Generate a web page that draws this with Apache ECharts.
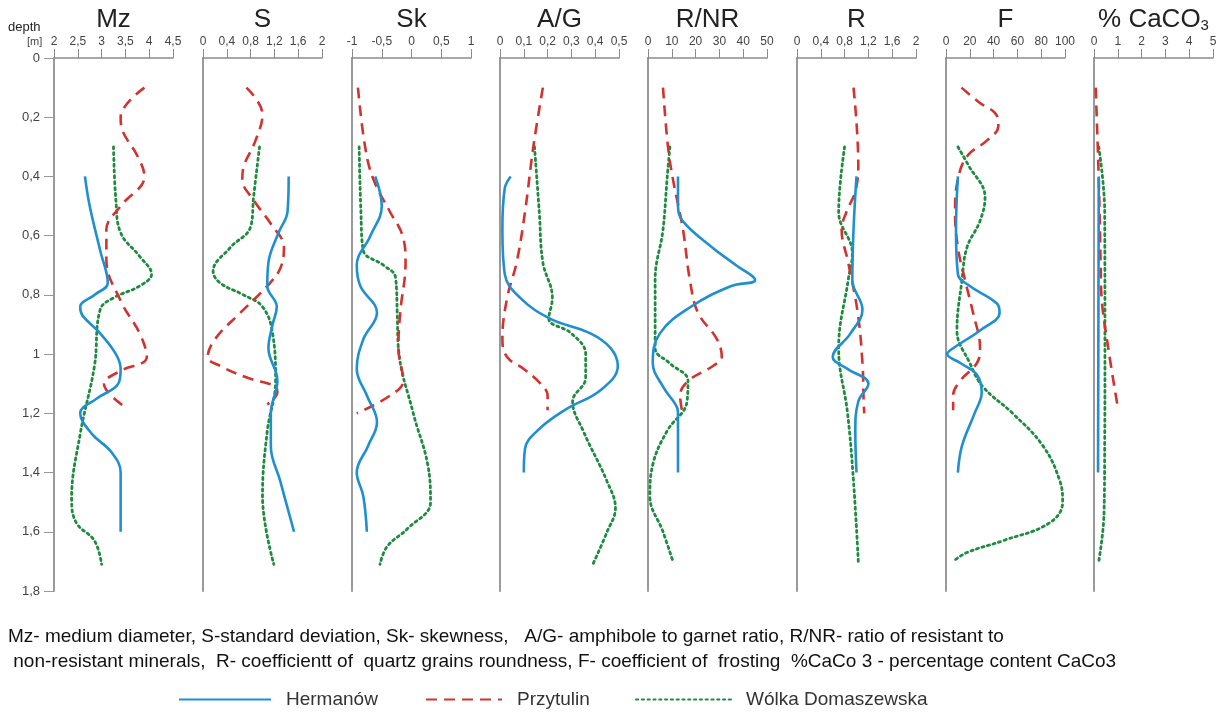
<!DOCTYPE html>
<html><head><meta charset="utf-8">
<script src="https://cdn.jsdelivr.net/npm/echarts@6/dist/echarts.min.js"></script>
<style>html,body{margin:0;padding:0;background:#fff}#c{width:1231px;height:712px}</style>
</head><body><div id="c"></div>
<script>
// ---- axes / categories ----
const panelTitles = ['Mz', 'S', 'Sk', 'A/G', 'R/NR', 'R', 'F', '% CaCO3'];
const xMin = [2, 0, -1, 0, 0, 0, 0, 0];
const xMax = [4.5, 2, 1, 0.5, 50, 2, 100, 5];
const xStep = [0.5, 0.4, 0.5, 0.1, 10, 0.4, 20, 1];
const depthMin = 0, depthMax = 1.8, depthStep = 0.2;
const seriesNames = ['Hermanów', 'Przytulin', 'Wólka Domaszewska'];
const captionLine1 = 'Mz- medium diameter, S-standard deviation, Sk- skewness,   A/G- amphibole to garnet ratio, R/NR- ratio of resistant to';
const captionLine2 = ' non-resistant minerals,  R- coefficientt of  quartz grains roundness, F- coefficient of  frosting  %CaCo 3 - percentage content CaCo3';

// ---- data: [depth (m), value] ----
// Mz
const mzHermanow = [[0.4,2.65],[0.5,2.75],[0.65,2.97],[0.76,3.13],[0.8,2.85],[0.84,2.55],[0.87,2.6],[0.93,2.97],[1.0,3.3],[1.05,3.4],[1.1,3.35],[1.15,2.9],[1.2,2.55],[1.27,2.8],[1.33,3.2],[1.4,3.4],[1.6,3.4]];
const mzPrzytulin = [[0.1,3.9],[0.2,3.4],[0.25,3.45],[0.33,3.75],[0.4,3.9],[0.5,3.4],[0.58,3.1],[0.68,3.1],[0.82,3.4],[0.93,3.8],[1.01,3.95],[1.06,3.35],[1.1,3.05],[1.18,3.5]];
const mzWolka = [[0.3,3.25],[0.48,3.3],[0.59,3.4],[0.67,3.8],[0.73,4.05],[0.77,3.8],[0.81,3.25],[0.85,2.97],[1.04,2.85],[1.27,2.55],[1.49,2.37],[1.57,2.47],[1.63,2.85],[1.71,3.0]];
// S
const sHermanow = [[0.4,1.44],[0.52,1.42],[0.59,1.27],[0.69,1.1],[0.77,1.08],[0.84,1.24],[0.9,1.17],[0.98,1.1],[1.09,1.25],[1.2,1.14],[1.31,1.14],[1.43,1.3],[1.6,1.53]];
const sPrzytulin = [[0.1,0.73],[0.19,1.0],[0.28,0.88],[0.37,0.68],[0.41,0.66],[0.48,0.85],[0.56,1.14],[0.64,1.36],[0.71,1.3],[0.77,1.08],[0.86,0.63],[0.95,0.2],[1.01,0.08],[1.04,0.29],[1.08,0.75],[1.11,1.22],[1.13,1.25],[1.17,1.08]];
const sWolka = [[0.3,0.95],[0.47,0.85],[0.57,0.8],[0.64,0.46],[0.72,0.17],[0.76,0.29],[0.8,0.68],[0.84,1.0],[0.93,1.17],[1.09,1.22],[1.26,1.08],[1.48,1.0],[1.71,1.19]];
// Sk
const skHermanow = [[0.4,-0.61],[0.5,-0.5],[0.6,-0.69],[0.7,-0.92],[0.77,-0.86],[0.86,-0.58],[0.95,-0.81],[1.05,-0.92],[1.14,-0.75],[1.23,-0.58],[1.31,-0.73],[1.4,-0.92],[1.48,-0.81],[1.6,-0.75]];
const skPrzytulin = [[0.1,-0.9],[0.3,-0.78],[0.41,-0.64],[0.52,-0.36],[0.6,-0.15],[0.69,-0.1],[0.86,-0.19],[0.98,-0.22],[1.09,-0.14],[1.14,-0.36],[1.2,-0.92]];
const skWolka = [[0.3,-0.88],[0.52,-0.85],[0.65,-0.81],[0.7,-0.47],[0.74,-0.27],[0.86,-0.24],[0.98,-0.22],[1.2,0.03],[1.37,0.27],[1.5,0.32],[1.59,-0.07],[1.65,-0.41],[1.71,-0.53]];
// A/G
const agHermanow = [[0.4,0.045],[0.44,0.02],[0.58,0.01],[0.73,0.02],[0.81,0.085],[0.88,0.21],[0.93,0.38],[0.98,0.465],[1.04,0.495],[1.12,0.425],[1.19,0.27],[1.26,0.155],[1.32,0.105],[1.4,0.1]];
const agPrzytulin = [[0.1,0.18],[0.3,0.14],[0.52,0.105],[0.69,0.07],[0.81,0.03],[0.95,0.01],[1.01,0.03],[1.05,0.1],[1.1,0.17],[1.14,0.2],[1.19,0.2]];
const agWolka = [[0.3,0.145],[0.52,0.165],[0.69,0.18],[0.81,0.22],[0.88,0.205],[0.93,0.3],[1.0,0.36],[1.08,0.36],[1.16,0.305],[1.26,0.35],[1.43,0.45],[1.52,0.485],[1.6,0.45],[1.71,0.39]];
// R/NR
const rnrHermanow = [[0.4,12.6],[0.5,12.6],[0.55,14.5],[0.64,27],[0.7,37],[0.75,45],[0.77,35],[0.84,18],[0.93,5],[1.03,2],[1.11,6.3],[1.18,12.2],[1.2,12.6],[1.4,12.6]];
const rnrPrzytulin = [[0.1,6.3],[0.3,8.4],[0.41,10.5],[0.58,14.7],[0.75,17.6],[0.86,21],[0.95,29],[1.01,31],[1.04,27.3],[1.09,17],[1.14,13.5],[1.2,14.5]];
const rnrWolka = [[0.3,9.2],[0.41,8],[0.58,6.3],[0.75,3],[0.98,3],[1.03,9],[1.09,16.8],[1.16,16.4],[1.26,8],[1.37,2.1],[1.48,0.8],[1.6,6.3],[1.7,10.5]];
// R
const rHermanow = [[0.4,1.0],[0.58,0.95],[0.75,0.93],[0.85,1.1],[0.93,0.9],[1.01,0.6],[1.05,0.85],[1.1,1.2],[1.16,1.03],[1.26,0.98],[1.4,1.0]];
const rPrzytulin = [[0.1,0.95],[0.36,1.03],[0.45,0.98],[0.52,0.83],[0.58,0.75],[0.69,0.86],[0.86,1.02],[1.03,1.1],[1.16,1.12],[1.2,1.13]];
const rWolka = [[0.3,0.8],[0.52,0.7],[0.66,0.93],[0.75,0.86],[0.98,0.7],[1.2,0.85],[1.43,0.95],[1.7,1.03]];
// F
const fHermanow = [[0.4,10],[0.58,8.4],[0.73,10],[0.77,20],[0.83,43],[0.86,45],[0.92,28.6],[0.98,6],[1.0,1],[1.03,12],[1.07,26],[1.13,30],[1.2,24],[1.31,13.4],[1.4,10]];
const fPrzytulin = [[0.1,13],[0.15,28],[0.19,42],[0.23,44],[0.28,34],[0.33,18],[0.41,10],[0.52,7.6],[0.64,10],[0.75,16],[0.86,22.7],[0.98,28.6],[1.03,26],[1.09,12],[1.14,6],[1.19,6]];
const fWolka = [[0.3,10],[0.36,18.5],[0.47,32.8],[0.55,28.6],[0.64,17.6],[0.75,13.4],[0.92,9.2],[1.03,20],[1.11,31],[1.2,56],[1.31,81.5],[1.43,95.8],[1.5,98],[1.57,87],[1.63,48],[1.67,17.6],[1.7,6]];
// CaCO3
const caHermanow = [[0.4,0.2],[1.4,0.17]];
const caPrzytulin = [[0.1,0.07],[0.41,0.2],[0.7,0.28],[0.81,0.32],[0.98,0.6],[1.18,1.0]];
const caWolka = [[0.3,0.2],[0.52,0.45],[1.0,0.46],[1.3,0.45],[1.54,0.42],[1.7,0.2]];

const panelData = [
  [mzHermanow, mzPrzytulin, mzWolka],
  [sHermanow, sPrzytulin, sWolka],
  [skHermanow, skPrzytulin, skWolka],
  [agHermanow, agPrzytulin, agWolka],
  [rnrHermanow, rnrPrzytulin, rnrWolka],
  [rHermanow, rPrzytulin, rWolka],
  [fHermanow, fPrzytulin, fWolka],
  [caHermanow, caPrzytulin, caWolka]
];

// ---- layout / style ----
const FONT = '"Liberation Sans", Arial, sans-serif';
const gridLeft = [54, 203, 352, 500, 648, 797, 946, 1094];
const gridWidth = 119, gridTop = 58, gridHeight = 533;
const lineStyles = [
  { color: '#1f8fd2', width: 2.6, type: 'solid' },
  { color: '#d2332e', width: 2.6, type: [11, 7] },
  { color: '#1f8b3f', width: 2.8, type: [2.2, 3.6], cap: 'round' }
];
const fmt = v => String(+(+v).toFixed(2)).replace('.', ',');
const axisGrey = '#9a9a9a';

const grids = [], xAxes = [], yAxes = [], series = [], graphics = [];
panelTitles.forEach((t, i) => {
  grids.push({ left: gridLeft[i], top: gridTop, width: gridWidth, height: gridHeight, containLabel: false });
  xAxes.push({
    type: 'value', gridIndex: i, position: 'top', min: xMin[i], max: xMax[i], interval: xStep[i],
    axisLine: { show: true, onZero: false, lineStyle: { color: '#8c8c8c', width: 1.6 } },
    axisTick: { show: true, length: 9, lineStyle: { color: '#8c8c8c', width: 1 } },
    axisLabel: { margin: 10, fontSize: 12, color: '#444', fontFamily: FONT, formatter: fmt },
    splitLine: { show: false }
  });
  yAxes.push({
    type: 'value', gridIndex: i, inverse: true, min: depthMin, max: depthMax, interval: depthStep,
    axisLine: { show: true, onZero: false, lineStyle: { color: axisGrey, width: 2 } },
    axisTick: { show: i === 0, length: 10, lineStyle: { color: axisGrey, width: 1 } },
    axisLabel: { show: i === 0, margin: 14, fontSize: 13, color: '#444', fontFamily: FONT, formatter: fmt },
    splitLine: { show: false }
  });
  panelData[i].forEach((arr, s) => {
    series.push({
      name: seriesNames[s], type: 'line', xAxisIndex: i, yAxisIndex: i,
      data: arr.map(p => [p[1], p[0]]),
      smooth: 0.4, symbol: 'none', showSymbol: false, silent: true,
      lineStyle: Object.assign({}, lineStyles[s]), itemStyle: { color: lineStyles[s].color },
      z: 3 - s
    });
  });
  const cx = gridLeft[i] + gridWidth / 2;
  if (t === '% CaCO3') {
    graphics.push({ type: 'text', x: cx, y: 20, style: { text: '{a|% CaCO}{b|3}', align: 'center', verticalAlign: 'middle', textAlign: 'center', textVerticalAlign: 'middle',
      rich: { a: { fontSize: 26, fontFamily: FONT, fill: '#222', color: '#222' }, b: { fontSize: 15, fontFamily: FONT, fill: '#222', color: '#222', padding: [12, 0, 0, 0] } } } });
  } else {
    graphics.push({ type: 'text', x: cx, y: 20, style: { text: t, font: '26px ' + FONT, fill: '#222', align: 'center', verticalAlign: 'middle', textAlign: 'center', textVerticalAlign: 'middle' } });
  }
});

graphics.push({ type: 'text', x: 8, y: 27, style: { text: 'depth', font: '13px ' + FONT, fill: '#222', verticalAlign: 'middle', textVerticalAlign: 'middle' } });
graphics.push({ type: 'text', x: 27, y: 42, style: { text: '[m]', font: '11px ' + FONT, fill: '#444', verticalAlign: 'middle', textVerticalAlign: 'middle' } });
graphics.push({ type: 'text', x: 8, y: 637, style: { text: captionLine1, font: '19px ' + FONT, fill: '#111', verticalAlign: 'middle', textVerticalAlign: 'middle' } });
graphics.push({ type: 'text', x: 8, y: 662, style: { text: captionLine2, font: '19px ' + FONT, fill: '#111', verticalAlign: 'middle', textVerticalAlign: 'middle' } });

const legendPos = [{ left: 178, w: 92 }, { left: 425, w: 76 }, { left: 635, w: 95 }];
const legends = seriesNames.map((n, s) => ({
  data: [n], left: legendPos[s].left, top: 690, orient: 'horizontal', padding: 0,
  itemWidth: legendPos[s].w, itemHeight: 20, selectedMode: false,
  itemStyle: { opacity: 0, borderWidth: 0 },
  textStyle: { fontSize: 19, color: '#333', fontFamily: FONT, padding: [0, 0, 0, 10] }
}));

const chart = echarts.init(document.getElementById('c'), null, { renderer: 'canvas' });
chart.setOption({
  animation: false, backgroundColor: '#fff',
  grid: grids, xAxis: xAxes, yAxis: yAxes, series: series,
  legend: legends, graphic: graphics
});
</script></body></html>
